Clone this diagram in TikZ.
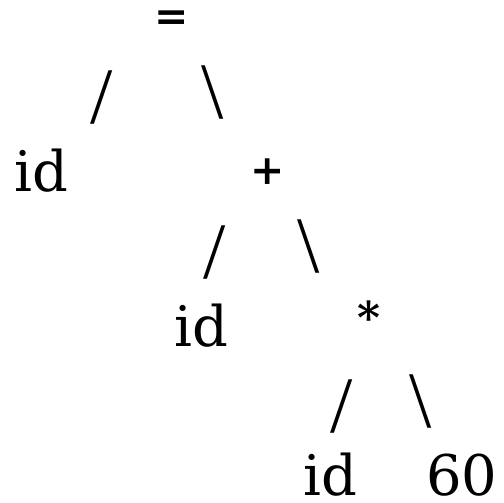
\documentclass[tikz,border=0pt]{standalone}
\usepackage{fontspec}
\setmainfont{DejaVu Serif}
\newfontfamily\slashfont{Liberation Serif}
\begin{document}
\begin{tikzpicture}[x=1pt,y=-1pt,
  word/.style={inner sep=0pt,anchor=base,font=\fontsize{56}{60}\selectfont},
  oper/.style={inner sep=0pt,anchor=center},
  edge/.style={inner sep=0pt,anchor=center,font=\slashfont\fontsize{80}{84}\selectfont}]
\useasboundingbox (0,0) rectangle (504,503);
\node[oper,font=\bfseries\fontsize{41}{44}\selectfont] (eq) at (172,21) {=};
\node[edge] (s1) at (102,98) {/};
\node[edge] (b1) at (213,93) {\textbackslash};
\node[word] (id1) at (41,191) {id};
\node[oper,font=\bfseries\fontsize{41}{44}\selectfont] (plus) at (268,172) {+};
\node[edge] (s2) at (215,253) {/};
\node[edge] (b2) at (309,247) {\textbackslash};
\node[word] (id2) at (201,346) {id};
\node[oper,font=\bfseries\fontsize{44}{46}\selectfont] (star) at (369,317) {*};
\node[edge] (s3) at (342,407) {/};
\node[edge] (b3) at (421,402) {\textbackslash};
\node[word] (id3) at (330,495) {id};
\node[word] (sixty) at (462,495) {60};
\end{tikzpicture}
\end{document}
